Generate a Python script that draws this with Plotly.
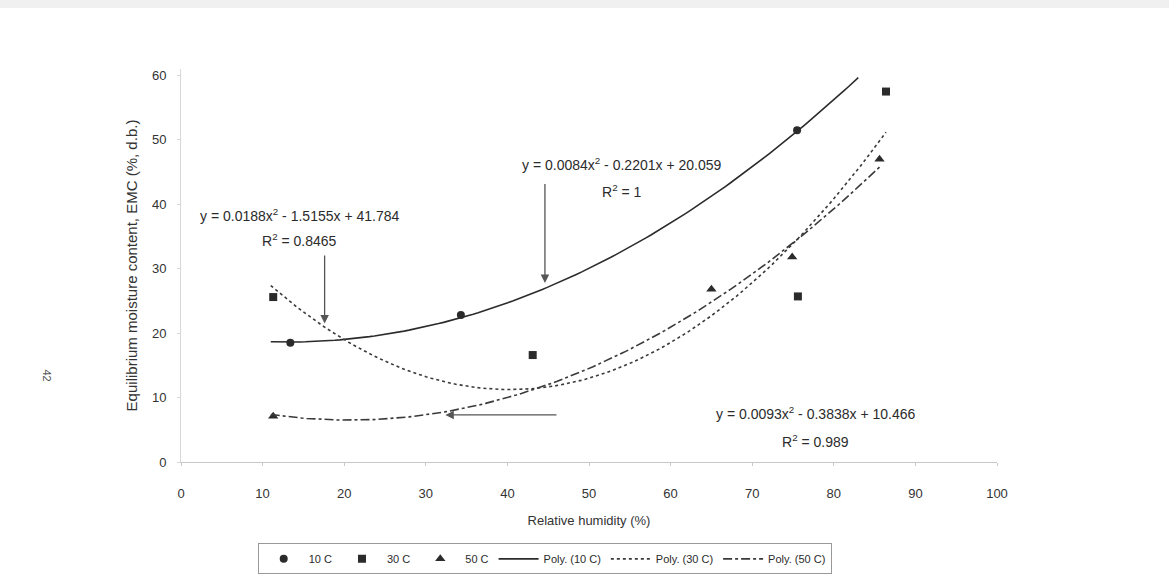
import numpy as np
import plotly.graph_objects as go

# Measured equilibrium moisture content (% d.b.) vs relative humidity (%)
rh_10 = [13.4, 34.3, 75.5]
emc_10 = [18.5, 22.8, 51.5]
rh_30 = [11.3, 43.1, 75.6, 86.4]
emc_30 = [25.6, 16.6, 25.7, 57.5]
rh_50 = [11.3, 65.0, 74.9, 85.6]
emc_50 = [7.1, 26.8, 31.8, 47.0]

# Second-order trendline coefficients (a, b, c) for y = a x^2 + b x + c
coef_10 = (0.0084, -0.2201, 20.059)
coef_30 = (0.0188, -1.5155, 41.784)
coef_50 = (0.0093, -0.3838, 10.466)
span_10 = (11.0, 83.0)
span_30 = (11.0, 86.4)
span_50 = (11.0, 85.6)

x_ticks = [0, 10, 20, 30, 40, 50, 60, 70, 80, 90, 100]
y_ticks = [0, 10, 20, 30, 40, 50, 60]

INK = "#2b2b2b"
FONT = "Liberation Sans, Arial, sans-serif"


def trend(coef, span):
    xs = np.linspace(span[0], span[1], 120)
    a, b, c = coef
    return xs, a * xs ** 2 + b * xs + c


fig = go.Figure()

fig.add_trace(go.Scatter(x=rh_10, y=emc_10, mode="markers", name="10 C",
                         marker=dict(symbol="circle", size=8, color=INK)))
fig.add_trace(go.Scatter(x=rh_30, y=emc_30, mode="markers", name="30 C",
                         marker=dict(symbol="square", size=8, color=INK)))
fig.add_trace(go.Scatter(x=rh_50, y=emc_50, mode="markers", name="50 C",
                         marker=dict(symbol="triangle-up", size=9, color=INK)))

for coef, span, name, dash, col in [(coef_10, span_10, "Poly. (10 C)", "solid", INK),
                                    (coef_30, span_30, "Poly. (30 C)", "dot", "#3a3a3a"),
                                    (coef_50, span_50, "Poly. (50 C)", "dashdot", "#3a3a3a")]:
    xs, ys = trend(coef, span)
    fig.add_trace(go.Scatter(x=xs, y=ys, mode="lines", name=name,
                             line=dict(color=col, width=1.6, dash=dash)))


def eq_text(coef):
    a, b, c = coef
    sb = "-" if b < 0 else "+"
    sc = "-" if c < 0 else "+"
    return f"y = {a:g}x<sup>2</sup> {sb} {abs(b):g}x {sc} {abs(c):g}"


labels = [
    (coef_30, "0.8465", 14.5, 38.3, 34.4),
    (coef_10, "1", 54.0, 46.3, 42.0),
    (coef_50, "0.989", 77.7, 7.6, 3.2),
]
annotations = []
for coef, r2, xc, y_eq, y_r2 in labels:
    annotations.append(dict(x=xc, y=y_eq, xref="x", yref="y", text=eq_text(coef),
                            showarrow=False, font=dict(size=14, color=INK)))
    annotations.append(dict(x=xc, y=y_r2, xref="x", yref="y",
                            text=f"R<sup>2</sup> = {r2}",
                            showarrow=False, font=dict(size=14, color=INK)))

# Arrows pointing from the equations to their curves
arrows = [(17.6, 21.5, 17.6, 32.3), (44.6, 27.8, 44.6, 43.4), (32.4, 7.3, 46.2, 7.3)]
for x, y, ax, ay in arrows:
    annotations.append(dict(x=x, y=y, ax=ax, ay=ay, xref="x", yref="y",
                            axref="x", ayref="y", text="", showarrow=True,
                            arrowhead=2, arrowsize=1.3, arrowwidth=1.3,
                            arrowcolor="#555555"))

# Page number in the margin
annotations.append(dict(x=-0.174, y=0.2, xref="paper", yref="paper", text="42",
                        showarrow=False, textangle=90,
                        font=dict(size=11, color="#555555")))

fig.update_layout(
    width=1169, height=574,
    margin=dict(l=181, r=172, t=69, b=112, autoexpand=False),
    paper_bgcolor="white", plot_bgcolor="white",
    font=dict(family=FONT, color=INK),
    showlegend=True,
    legend=dict(orientation="h", x=0.094, y=-0.207, xanchor="left", yanchor="top",
                bordercolor="#999999", borderwidth=1, bgcolor="white",
                font=dict(size=11, color=INK), itemwidth=40, tracegroupgap=0),
    annotations=annotations,
    shapes=[dict(type="rect", xref="paper", yref="paper", x0=-0.25, x1=1.25,
                 y0=1.155, y1=1.18, fillcolor="#f0f0f0", line=dict(width=0),
                 layer="below")],
)

fig.update_xaxes(range=[0, 100], tickvals=x_ticks, showgrid=False, zeroline=False,
                 showline=True, linecolor="#c8c8c8", linewidth=1,
                 ticks="outside", ticklen=3, tickcolor="#c8c8c8",
                 ticklabelstandoff=16,
                 tickfont=dict(size=13, color="#333333"),
                 title=dict(text="Relative humidity (%)", font=dict(size=13, color="#333333"),
                            standoff=16))
fig.update_yaxes(range=[0, 61], tickvals=y_ticks, showgrid=False, zeroline=False,
                 showline=True, linecolor="#d8d8d8", linewidth=1,
                 ticks="outside", ticklen=3, tickcolor="#d8d8d8",
                 ticklabelstandoff=8,
                 tickfont=dict(size=13, color="#333333"),
                 title=dict(text="Equilibrium moisture content, EMC (%, d.b.)",
                            font=dict(size=15, color="#333333"), standoff=10))

fig.write_html("out.html")
